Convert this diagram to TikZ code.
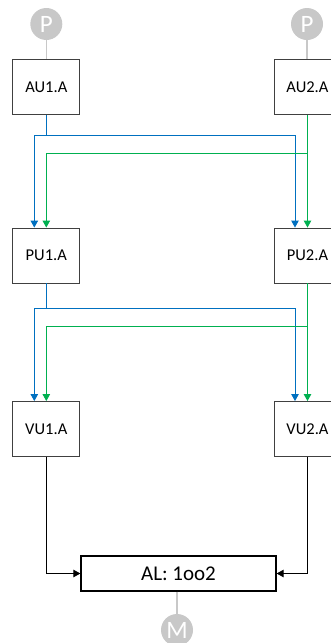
\documentclass[tikz,border=0pt]{standalone}
\usepackage{fontspec}
\setmainfont{Carlito}
\usetikzlibrary{arrows.meta}
\definecolor{sigblue}{HTML}{0070C0}
\definecolor{siggreen}{HTML}{00B050}
\definecolor{portgrey}{HTML}{C8C8C8}
\definecolor{boxline}{HTML}{404040}
\begin{document}
\begin{tikzpicture}[x=1pt,y=-1pt,
  unit/.style={draw=boxline,line width=0.9pt,minimum width=67pt,minimum height=55pt,
    inner sep=0pt,font=\fontsize{16.5}{19}\selectfont},
  votebox/.style={draw=black,line width=1.3pt,minimum width=195pt,minimum height=35pt,
    inner sep=0pt,font=\fontsize{21}{24}\selectfont},
  port/.style={circle,fill=portgrey,minimum size=32pt,inner sep=0pt,text=white,
    font=\fontsize{25}{27}\selectfont},
  portline/.style={draw=portgrey,line width=1.2pt},
  sig/.style={line width=0.9pt,-{Triangle[length=7pt,width=7.5pt]}},
]
\useasboundingbox (0,0) rectangle (331,643);
\clip (0,0) rectangle (331,643);

% processing units, two channels
\node[unit] (au1) at (46.3,86.8) {AU1.A};
\node[unit] (au2) at (307.5,86.8) {AU2.A};
\node[unit] (pu1) at (46.3,255.5) {PU1.A};
\node[unit] (pu2) at (307.5,255.5) {PU2.A};
\node[unit] (vu1) at (46.3,429) {VU1.A};
\node[unit] (vu2) at (307.5,429) {VU2.A};
\node[votebox] (al) at (178.5,573.5) {AL: 1oo2};

% input and output ports
\node[port] (p1) at (46.3,24) {P};
\node[port] (p2) at (307,24) {P};
\node[port] (m) at (177,630) {M};
\draw[portline] (p1.south) -- (p1.south |- au1.north);
\draw[portline] (p2.south) -- (p2.south |- au2.north);
\draw[portline] (m.north |- al.south) -- (m.north);

% stage 1 cross links
\path (au1.south) ++(0,20.5) coordinate (bj1);
\path (au2.south) ++(0,38.5) coordinate (gj1);
\draw[sig,sigblue] (au1.south) -- (bj1) -| ([xshift=-12pt]pu1.north);
\draw[sig,sigblue] (bj1) -| ([xshift=-12.5pt]pu2.north);
\draw[sig,siggreen] (au2.south) -- (pu2.north);
\draw[sig,siggreen] (gj1) -| (pu1.north);

% stage 2 cross links
\path (pu1.south) ++(0,25) coordinate (bj2);
\path (pu2.south) ++(0,43) coordinate (gj2);
\draw[sig,sigblue] (pu1.south) -- (bj2) -| ([xshift=-12pt]vu1.north);
\draw[sig,sigblue] (bj2) -| ([xshift=-12.5pt]vu2.north);
\draw[sig,siggreen] (pu2.south) -- (vu2.north);
\draw[sig,siggreen] (gj2) -| (vu1.north);

% voter inputs
\draw[sig,black] (vu1.south) |- (al.west);
\draw[sig,black] (vu2.south) |- (al.east);
\end{tikzpicture}
\end{document}
